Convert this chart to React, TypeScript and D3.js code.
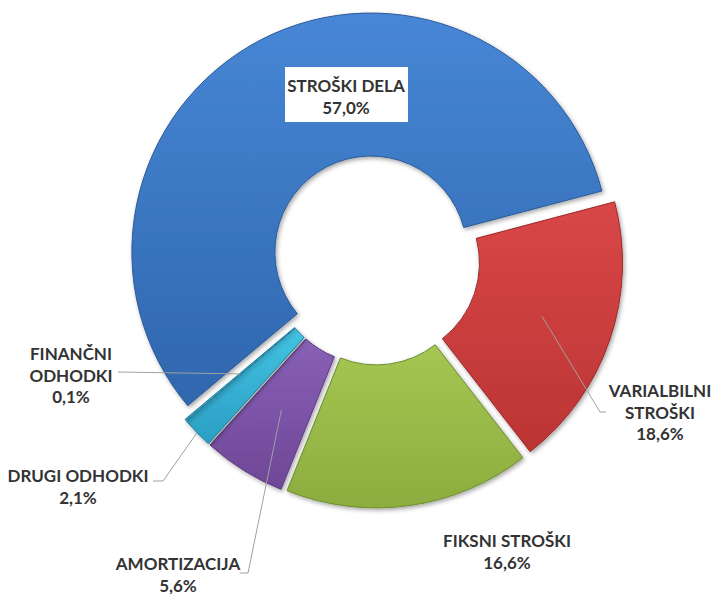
import React from "react";
import * as d3 from "d3";

const categories = ["STROŠKI DELA", "VARIALBILNI STROŠKI", "FIKSNI STROŠKI", "AMORTIZACIJA", "DRUGI ODHODKI", "FINANČNI ODHODKI"];
const values = [57.0, 18.6, 16.6, 5.6, 2.1, 0.1];
const valueLabels = ["57,0%", "18,6%", "16,6%", "5,6%", "2,1%", "0,1%"];
const labelLines = [["STROŠKI DELA"], ["VARIALBILNI", "STROŠKI"], ["FIKSNI STROŠKI"], ["AMORTIZACIJA"], ["DRUGI ODHODKI"], ["FINANČNI", "ODHODKI"]];

const colorsTop = ["#4787d6", "#d94747", "#a6c653", "#8860b6", "#44c3e3", "#44c3e3"];
const colorsBottom = ["#2f66ad", "#bb3434", "#8cad3e", "#6f4697", "#2a9ec3", "#2a9ec3"];
const strokeColors = ["#2a5a98", "#9a2a2a", "#6f8c2e", "#5a3a7e", "#1f7f9e", "#1f7f9e"];

// layout (not data)
const W = 712, H = 594;
const CX = 375, CY = 260;
const R_OUT = 239, R_IN = 96, EXPLODE = 9;
const START_DEG = 230;
const LINE_H = 21.5;
const labelPos = [
  { x: 346, y: 92 },
  { x: 660, y: 397 },
  { x: 507, y: 547 },
  { x: 178, y: 570 },
  { x: 78, y: 482 },
  { x: 71, y: 360 },
];
const leaders: (null | { sx: number; sy: number; ex: number; target: "mid" | "outer" })[] = [
  null,
  { sx: 606, sy: 412, ex: 600, target: "mid" },
  null,
  { sx: 240, sy: 573, ex: 248, target: "mid" },
  { sx: 153, sy: 481, ex: 163, target: "outer" },
  { sx: 118, sy: 372, ex: 118, target: "mid" },
];

export default function App() {
  const start = (START_DEG * Math.PI) / 180;
  const pie = d3.pie<number>().sort(null).startAngle(start).endAngle(start + 2 * Math.PI);
  const arcs = pie(values);
  const arc = d3.arc<d3.PieArcDatum<number>>().innerRadius(R_IN).outerRadius(R_OUT);
  const fontFamily = "Lato, 'Open Sans', sans-serif";

  const offset = (d: d3.PieArcDatum<number>) => {
    const m = (d.startAngle + d.endAngle) / 2;
    return [EXPLODE * Math.sin(m), -EXPLODE * Math.cos(m)];
  };
  const pointAt = (d: d3.PieArcDatum<number>, r: number) => {
    const m = (d.startAngle + d.endAngle) / 2;
    const [ox, oy] = offset(d);
    return [CX + ox + r * Math.sin(m), CY + oy - r * Math.cos(m)];
  };

  return (
    <svg width={W} height={H} style={{ position: "absolute", left: 0, top: 0, background: "#fff" }}>
      <defs>
        {arcs.map((d, i) => (
          <linearGradient key={i} id={`g${i}`} x1="0" y1="0" x2="0" y2="1">
            <stop offset="0%" stopColor={colorsTop[i]} />
            <stop offset="100%" stopColor={colorsBottom[i]} />
          </linearGradient>
        ))}
        <filter id="sh" x="-10%" y="-10%" width="120%" height="120%">
          <feDropShadow dx="1.5" dy="2" stdDeviation="2" floodColor="#000" floodOpacity="0.35" />
        </filter>
      </defs>
      <g>
        {arcs.map((d, i) => {
          const [ox, oy] = offset(d);
          return (
            <path
              key={i}
              d={arc(d) || ""}
              transform={`translate(${CX + ox},${CY + oy})`}
              fill={`url(#g${i})`}
              stroke={strokeColors[i]}
              strokeWidth={1}
              filter="url(#sh)"
            />
          );
        })}
      </g>
      <g fill="none" stroke="#a0a0a0" strokeWidth={1}>
        {arcs.map((d, i) => {
          const L = leaders[i];
          if (!L) return null;
          const r = L.target === "mid" ? (R_IN + R_OUT) / 2 : R_OUT;
          const [tx, ty] = pointAt(d, r);
          return <polyline key={i} points={`${L.sx},${L.sy} ${L.ex},${L.sy} ${tx},${ty}`} />;
        })}
      </g>
      <rect x={285} y={67} width={123} height={55} fill="#fff" />
      <g fontFamily={fontFamily} fontWeight="bold" fontSize={17} fill="#333333" textAnchor="middle">
        {categories.map((c, i) => {
          const lines = [...labelLines[i], valueLabels[i]];
          return (
            <text key={c} x={labelPos[i].x} y={labelPos[i].y}>
              {lines.map((t, j) => (
                <tspan key={j} x={labelPos[i].x} dy={j === 0 ? 0 : LINE_H}>
                  {t}
                </tspan>
              ))}
            </text>
          );
        })}
      </g>
    </svg>
  );
}
